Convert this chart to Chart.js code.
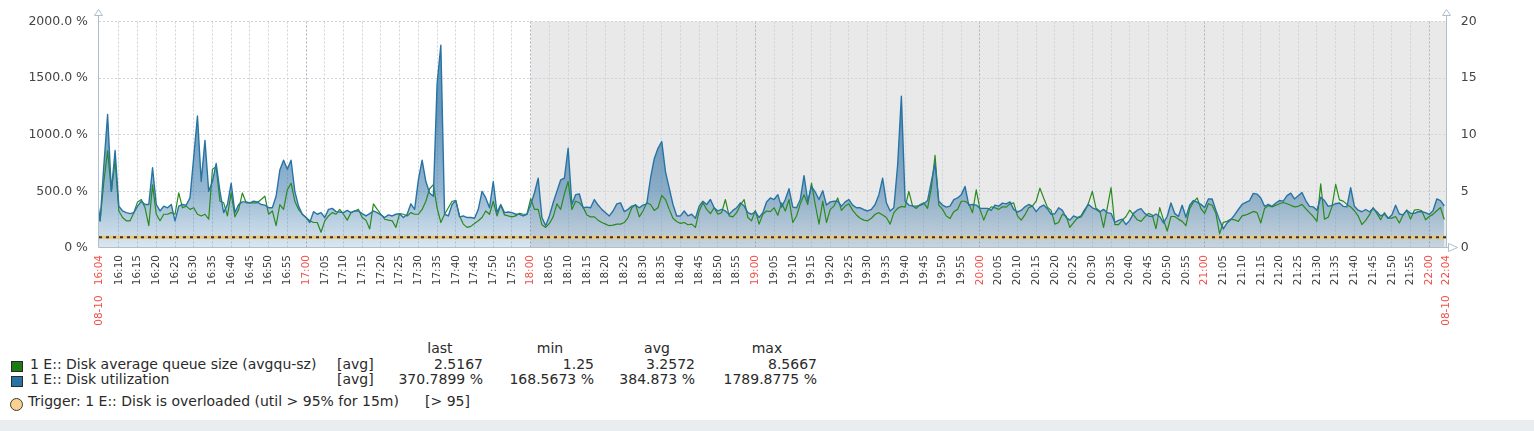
<!DOCTYPE html>
<html>
<head>
<meta charset="utf-8">
<title>Disk utilization</title>
<script src="https://cdn.jsdelivr.net/npm/chart.js@4/dist/chart.umd.min.js"></script>
<style>
  html, body { margin: 0; padding: 0; background: #fff; }
  body { width: 1534px; height: 431px; position: relative; overflow: hidden; font-family: "DejaVu Sans", sans-serif; color: #2a2a2a; }
  #wrap { position: absolute; left: 0; top: 0; width: 1534px; height: 340px; }
  .lg { position: absolute; font-size: 14px; line-height: 15px; white-space: pre; }
  .sq { position: absolute; width: 12px; height: 11px; box-sizing: border-box; border: 1px solid #2b2b2b; }
  .dot { position: absolute; width: 13px; height: 13px; border-radius: 50%; box-sizing: border-box; border: 1px solid #3a3a3a; background: #f8d28e; }
  #band { position: absolute; left: 0; top: 420px; width: 1534px; height: 11px; background: #eaedf0; }
</style>
</head>
<body>
<div id="wrap"><canvas id="graph"></canvas></div>
<div id="legend"></div>
<div id="band"></div>
<script>
// time axis is in minutes after 16:00, one sample per minute from 16:04
const FIRST_MIN = 4;
const X_MIN = 4.7;      // 16:04:42
const X_MAX = 364.65;   // 22:04:39
const WORK_END = 120;   // 18:00, grey after this
const TRIGGER = 95;
const RANGE_LABELS = ['08-10   16:04', '08-10   22:04'];

const TICK_LABELS = [
  '16:10','16:15','16:20','16:25','16:30','16:35','16:40','16:45','16:50','16:55',
  '17:00','17:05','17:10','17:15','17:20','17:25','17:30','17:35','17:40','17:45','17:50','17:55',
  '18:00','18:05','18:10','18:15','18:20','18:25','18:30','18:35','18:40','18:45','18:50','18:55',
  '19:00','19:05','19:10','19:15','19:20','19:25','19:30','19:35','19:40','19:45','19:50','19:55',
  '20:00','20:05','20:10','20:15','20:20','20:25','20:30','20:35','20:40','20:45','20:50','20:55',
  '21:00','21:05','21:10','21:15','21:20','21:25','21:30','21:35','21:40','21:45','21:50','21:55',
  '22:00'
];

// Disk utilization, %
const UTIL = [
  486, 240, 731, 1179, 500, 861, 370, 327, 312, 303,
  312, 370, 413, 384, 384, 708, 384, 327, 370, 355,
  384, 240, 370, 384, 379, 442, 803, 1165, 587, 950,
  500, 587, 746, 500, 312, 384, 572, 312, 384, 407,
  407, 399, 413, 407, 384, 379, 355, 355, 457, 688,
  775, 696, 775, 500, 370, 298, 269, 225, 321, 298,
  312, 269, 341, 350, 321, 318, 312, 332, 312, 327,
  327, 303, 283, 303, 327, 312, 292, 269, 292, 283,
  298, 303, 269, 298, 390, 341, 601, 775, 587, 486,
  457, 1450, 1789.88, 298, 283, 384, 419, 275, 283, 269,
  269, 263, 341, 500, 442, 355, 587, 312, 384, 312,
  318, 312, 298, 298, 283, 298, 384, 486, 616, 269,
  197, 283, 399, 500, 601, 616, 881, 384, 471, 477,
  355, 361, 355, 428, 379, 341, 312, 283, 327, 390,
  399, 321, 341, 370, 379, 355, 379, 390, 616, 789,
  881, 940, 673, 529, 384, 283, 283, 327, 283, 298,
  263, 370, 413, 384, 428, 355, 327, 341, 327, 298,
  332, 355, 399, 370, 312, 298, 321, 269, 312, 407,
  442, 428,
  471, 361, 428, 523, 361, 355, 428, 639, 413, 543,
  494, 428, 506, 379, 407, 413, 413, 370, 407, 428,
  379, 355, 355, 338, 327, 341, 384, 471, 616, 399,
  327, 355, 731, 1340, 413, 379, 370, 370, 376, 390,
  419, 587, 746, 413, 379, 361, 370, 428, 442, 471,
  543, 379, 384, 379, 350, 350, 350, 332, 379, 370,
  396, 390, 407, 341, 318, 332, 364, 384, 370, 321,
  361, 379, 347, 298, 303, 355, 332, 269, 246, 283,
  269, 283, 341, 384, 355, 341, 318, 341, 312,
  306, 227, 244, 255, 207, 244, 306, 334, 348, 306,
  283, 278, 300, 278, 221, 278, 397, 306, 278, 377,
  272, 377, 419, 405, 385, 357, 433, 433, 334, 244,
  168.57, 221, 249, 292, 340, 385, 402, 419, 482, 476,
  442, 368, 385, 368, 397, 419, 414, 462, 484, 433,
  462, 490, 419, 368, 363, 334, 448, 419, 368, 377,
  391, 397, 368, 363, 533, 368, 334, 320, 340, 320,
  348, 320, 283, 300, 263, 292, 377, 300, 292, 334,
  306, 306, 320, 320, 312, 297, 329, 433, 419, 370.79
];

// Disk average queue size
const QUEUE = [
  4.42, 2.40, 5.87, 8.57, 5.00, 7.75, 3.27, 2.69, 2.40, 2.40,
  3.12, 4.07, 4.28, 3.55, 1.97, 5.58, 2.98, 2.40, 2.98, 2.98,
  3.12, 2.98, 4.86, 3.55, 3.70, 3.41, 3.55, 2.98, 2.83, 2.98,
  2.54, 6.96, 7.17, 4.13, 3.99, 2.83, 4.86, 2.75, 3.41, 4.86,
  3.99, 3.99, 3.99, 3.99, 4.28, 4.57, 2.98, 3.27, 1.97, 3.84,
  3.41, 5.14, 5.72, 4.13, 3.41, 2.98, 2.69, 2.40, 2.25, 2.25,
  1.39, 2.40, 2.83, 3.12, 2.98, 3.41, 2.98, 2.46, 3.12, 3.27,
  3.41, 2.69, 2.46, 1.68, 3.90, 3.41, 2.98, 2.54, 2.46, 2.40,
  1.82, 3.03, 2.98, 2.83, 3.12, 2.98, 2.98, 3.41, 4.13, 5.23,
  5.60, 3.55, 2.25, 2.98, 3.55, 4.13, 4.19, 2.83, 2.11, 1.82,
  1.91, 2.17, 2.40, 2.69, 3.27, 2.98, 4.13, 2.83, 3.79, 2.92,
  2.83, 2.75, 2.83, 3.06, 2.98, 2.98, 4.36, 3.41, 3.41, 2.05,
  1.82, 2.17, 2.75, 3.90, 3.41, 4.77, 5.87, 3.41, 4.13, 3.99,
  3.61, 2.92, 2.75, 2.75, 2.46, 2.25, 2.11, 1.97, 2.02, 2.11,
  2.11, 2.25, 2.69, 3.55, 3.84, 2.75, 3.27, 3.99, 3.84, 3.32,
  3.55, 4.65, 4.28, 3.41, 2.63, 2.34, 2.17, 2.25, 2.05, 2.11,
  1.82, 3.27, 3.99, 3.41, 3.03, 3.55, 2.98, 3.12, 4.28, 2.83,
  2.75, 3.12, 3.79, 4.28, 2.69, 2.40, 3.32, 2.11, 2.98, 3.27,
  3.21, 3.55,
  2.89, 3.99, 3.27, 4.28, 2.25, 2.83, 3.90, 4.71, 3.84, 5.72,
  3.84, 2.11, 4.13, 2.25, 3.41, 3.70, 4.42, 3.32, 3.70, 3.90,
  3.32, 2.92, 2.63, 2.46, 2.40, 2.63, 2.98, 3.12, 2.92, 2.69,
  2.11, 3.12, 3.50, 3.67, 3.61, 5.00, 3.70, 3.50, 3.84, 3.99,
  3.50, 5.29, 8.18, 3.79, 3.41, 2.83, 2.60, 3.21, 3.41, 4.13,
  4.13, 3.90, 3.12, 5.14, 3.41, 2.46, 3.27, 3.64, 3.55, 3.41,
  3.64, 3.61, 3.90, 3.99, 2.83, 2.46, 2.92, 3.55, 3.70, 4.13,
  5.29, 4.42, 3.61, 3.32, 2.11, 2.25, 2.98, 2.83, 1.82, 2.25,
  2.63, 2.75, 3.27, 3.99, 5.00, 3.50, 3.27, 1.82, 3.55,
  5.33, 2.07, 2.07, 2.44, 2.78, 3.34, 2.92, 2.49, 2.35, 2.72,
  3.06, 2.92, 1.70, 3.57, 2.49, 1.50, 2.78, 2.78, 2.55, 2.35,
  1.98, 3.48, 4.05, 4.42, 3.48, 3.06, 3.91, 3.77, 3.06, 1.25,
  2.27, 2.35, 2.55, 2.49, 2.35, 2.83, 2.92, 3.06, 3.23, 3.12,
  2.21, 3.48, 3.74, 3.63, 3.77, 3.91, 4.02, 3.91, 3.77, 3.63,
  3.68, 3.85, 3.48, 3.12, 2.78, 2.35, 5.67, 2.55, 2.72, 3.63,
  5.61, 4.25, 4.14, 3.85, 3.63, 3.29, 2.83, 2.07, 2.44, 2.92,
  3.57, 3.06, 2.49, 3.12, 2.64, 2.64, 2.78, 2.21, 2.92, 3.34,
  2.55, 3.34, 3.40, 3.29, 2.49, 2.78, 2.97, 3.29, 3.57, 2.5167
];

const STAT_HEADERS = ['last', 'min', 'avg', 'max'];
const QUEUE_STATS = ['2.5167', '1.25', '3.2572', '8.5667'];
const UTIL_STATS = ['370.7899 %', '168.5673 %', '384.873 %', '1789.8775 %'];
const SERIES_NAMES = ['1 E:: Disk average queue size (avgqu-sz)', '1 E:: Disk utilization'];
const TRIGGER_TEXT = 'Trigger: 1 E:: Disk is overloaded (util > 95% for 15m)';
const TRIGGER_COND = '[> 95]';

const GREEN = '#1A7C11';
const BLUE = '#2774A4';
const AXIS = '#aebfcd';

const toMin = s => { const [h, m] = s.split(':').map(Number); return (h - 16) * 60 + m; };
const tickText = new Map(TICK_LABELS.map(l => [toMin(l), l]));
const isHour = v => v === X_MIN || v === X_MAX || (tickText.get(v) || '').endsWith(':00');

const utilPts = UTIL.map((v, i) => ({ x: FIRST_MIN + i, y: v }));
const queuePts = QUEUE.map((v, i) => ({ x: FIRST_MIN + i, y: v }));
const trigPts = [{ x: X_MIN, y: TRIGGER }, { x: X_MAX, y: TRIGGER }];

const frame = {
  id: 'frame',
  beforeDraw(chart) {
    const { ctx, chartArea: a, scales: { x } } = chart;
    const gx = x.getPixelForValue(WORK_END);
    ctx.save();
    ctx.fillStyle = '#e9e9e9';
    ctx.fillRect(gx, a.top, a.right - gx, a.bottom - a.top);
    ctx.restore();
  },
  afterDraw(chart) {
    const { ctx, chartArea: a } = chart;
    const L = Math.round(a.left) - 0.5, R = Math.round(a.right) - 0.5, B = Math.round(a.bottom) - 0.5;
    ctx.save();
    ctx.strokeStyle = AXIS;
    ctx.lineWidth = 1;
    ctx.fillStyle = '#fff';
    const up = (px) => {
      ctx.beginPath(); ctx.moveTo(px, B); ctx.lineTo(px, a.top - 6); ctx.stroke();
      ctx.beginPath(); ctx.moveTo(px - 4, a.top - 6); ctx.lineTo(px + 4, a.top - 6); ctx.lineTo(px, a.top - 12); ctx.closePath();
      ctx.fill(); ctx.stroke();
    };
    up(L); up(R);
    ctx.beginPath(); ctx.moveTo(L, B); ctx.lineTo(R + 2, B); ctx.stroke();
    ctx.beginPath(); ctx.moveTo(R + 2, B - 4); ctx.lineTo(R + 2, B + 4); ctx.lineTo(R + 11, B); ctx.closePath();
    ctx.fill(); ctx.stroke();
    ctx.restore();
  }
};

const fillGrad = (c) => {
  const { chart } = c;
  if (!chart.chartArea) return 'rgba(40,110,165,0.35)';
  const y = chart.scales.y;
  const g = chart.ctx.createLinearGradient(0, y.getPixelForValue(0), 0, y.getPixelForValue(1200));
  g.addColorStop(0, 'rgba(45,112,165,0.17)');
  g.addColorStop(0.42, 'rgba(45,112,165,0.5)');
  g.addColorStop(1, 'rgba(45,112,165,0.72)');
  return g;
};

new Chart(document.getElementById('graph'), {
  type: 'line',
  data: {
    datasets: [
      { data: utilPts, yAxisID: 'y', borderColor: BLUE, borderWidth: 1.4, borderJoinStyle: 'round', pointRadius: 0, fill: false },
      { data: queuePts, yAxisID: 'y1', borderColor: '#2a8a1e', borderWidth: 1.2, borderJoinStyle: 'round', pointRadius: 0, fill: false },
      { data: trigPts, yAxisID: 'y', borderColor: '#333', borderWidth: 2.2, borderDash: [3, 4], pointRadius: 0, fill: false },
      { data: trigPts, yAxisID: 'y', borderColor: '#f2c46b', borderWidth: 3, pointRadius: 0, fill: false },
      { data: utilPts, yAxisID: 'y', borderWidth: 0, pointRadius: 0, fill: 'origin', backgroundColor: fillGrad }
    ]
  },
  options: {
    responsive: true,
    maintainAspectRatio: false,
    animation: false,
    layout: { padding: { top: 14, left: 0, right: 0, bottom: 0 } },
    plugins: { legend: { display: false }, tooltip: { enabled: false } },
    scales: {
      x: {
        type: 'linear',
        min: X_MIN,
        max: X_MAX,
        afterBuildTicks: s => {
          s.ticks = [{ value: X_MIN }, ...TICK_LABELS.map(l => ({ value: toMin(l) })), { value: X_MAX }];
        },
        afterFit: s => { s.height = 92; },
        ticks: {
          autoSkip: false,
          minRotation: 90,
          maxRotation: 90,
          padding: 7,
          font: { family: 'DejaVu Sans', size: 10.5 },
          color: c => isHour(c.tick.value) ? '#f0504a' : '#3c3c3c',
          callback: v => v === X_MIN ? RANGE_LABELS[0] : v === X_MAX ? RANGE_LABELS[1] : tickText.get(v)
        },
        grid: {
          drawTicks: false,
          color: c => (c.tick.value === X_MIN || c.tick.value === X_MAX) ? 'rgba(0,0,0,0)'
            : isHour(c.tick.value) ? '#a9b4be' : '#ccd3da',
          lineWidth: 1
        },
        border: { display: false, dash: [2, 2] }
      },
      y: {
        position: 'left',
        min: 0,
        max: 2000,
        afterFit: s => { s.width = 99; },
        ticks: {
          stepSize: 500,
          padding: 11,
          font: { family: 'DejaVu Sans', size: 12.5 },
          color: '#444',
          callback: v => v === 0 ? '0 %' : v.toFixed(1) + ' %'
        },
        grid: { drawTicks: false, color: c => c.tick.value === 0 ? 'rgba(0,0,0,0)' : '#cdd4db' },
        border: { display: false, dash: [2, 2] }
      },
      y1: {
        position: 'right',
        min: 0,
        max: 20,
        afterFit: s => { s.width = 87.3; },
        ticks: {
          stepSize: 5,
          padding: 14,
          font: { family: 'DejaVu Sans', size: 12.5 },
          color: '#444',
          callback: v => String(v)
        },
        grid: { display: false, drawTicks: false },
        border: { display: false }
      }
    }
  },
  plugins: [frame]
});

// legend block under the graph
const legend = document.getElementById('legend');
const put = (text, css) => {
  const d = document.createElement('div');
  d.className = 'lg';
  d.textContent = text;
  Object.assign(d.style, css);
  legend.appendChild(d);
};
const COL_RIGHT = [483, 594, 695, 817];
const COL_HEAD = [440, 550, 657, 767];
const ROW_TOP = [341, 356.5, 371.5, 394];
STAT_HEADERS.forEach((h, i) => put(h, { left: (COL_HEAD[i] - 50) + 'px', width: '100px', textAlign: 'center', top: ROW_TOP[0] + 'px' }));
[[GREEN, SERIES_NAMES[0], QUEUE_STATS], [BLUE, SERIES_NAMES[1], UTIL_STATS]].forEach(([col, name, stats], r) => {
  const top = ROW_TOP[r + 1];
  const sq = document.createElement('div');
  sq.className = 'sq';
  sq.style.left = '11px';
  sq.style.top = (top + 4.5) + 'px';
  sq.style.background = col;
  legend.appendChild(sq);
  put(name, { left: '30px', top: top + 'px' });
  put('[avg]', { left: '337px', top: top + 'px' });
  stats.forEach((s, i) => put(s, { right: (1534 - COL_RIGHT[i]) + 'px', top: top + 'px', textAlign: 'right' }));
});
const dot = document.createElement('div');
dot.className = 'dot';
dot.style.left = '10px';
dot.style.top = (ROW_TOP[3] + 3.5) + 'px';
legend.appendChild(dot);
put(TRIGGER_TEXT, { left: '28px', top: ROW_TOP[3] + 'px' });
put(TRIGGER_COND, { left: '425px', top: ROW_TOP[3] + 'px' });
</script>
</body>
</html>
